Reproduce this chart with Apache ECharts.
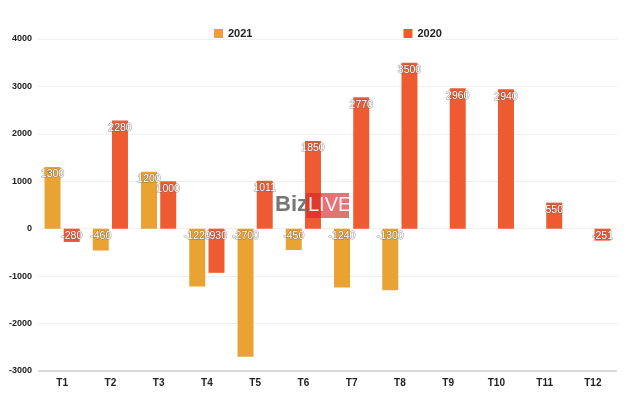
<!DOCTYPE html>
<html><head><meta charset="utf-8">
<script src="https://cdn.jsdelivr.net/npm/echarts@6/dist/echarts.min.js"></script>
<style>html,body{margin:0;padding:0;background:#fff}#c{width:630px;height:401px}</style>
</head><body><div id="c"></div>
<script>
const categories = ['T1','T2','T3','T4','T5','T6','T7','T8','T9','T10','T11','T12'];
const values2021 = [1300, -460, 1200, -1220, -2700, -450, -1240, -1300, null, null, null, null];
const values2020 = [-280, 2280, 1000, -930, 1011, 1850, 2770, 3500, 2960, 2940, 550, -251];
const yTicks = { min: -3000, max: 4000, interval: 1000 };

const chart = echarts.init(document.getElementById('c'));
const lbl = {
  show: true, position: 'insideTop', distance: 2,
  color: '#fff', fontSize: 10.5, fontFamily: 'Arial, Liberation Sans',
  textBorderColor: 'rgba(90,90,90,0.6)', textBorderWidth: 1
};
chart.setOption({
  animation: false,
  grid: { left: 38, right: 13, top: 39, bottom: 30 },
  legend: {
    left: 209, top: 23, itemWidth: 9, itemHeight: 9, itemGap: 151,
    icon: 'rect',
    textStyle: { fontSize: 11, fontWeight: 'bold', color: '#222', fontFamily: 'Arial, Liberation Sans' },
    data: ['2021', '2020']
  },
  xAxis: {
    type: 'category', data: categories,
    axisLine: { show: false }, axisTick: { show: false },
    axisLabel: { fontSize: 10, fontWeight: 'bold', color: '#222', margin: 7, fontFamily: 'Arial, Liberation Sans' }
  },
  yAxis: {
    type: 'value', min: yTicks.min, max: yTicks.max, interval: yTicks.interval,
    axisLine: { show: false }, axisTick: { show: false },
    axisLabel: { fontSize: 9, fontWeight: 'bold', color: '#222', margin: 6, fontFamily: 'Arial, Liberation Sans',
      formatter: v => String(v) },
    splitLine: { lineStyle: { color: '#f0f0f0' } }
  },
  graphic: [
    { type: 'line', z: 100, shape: { x1: 38, y1: 371, x2: 617, y2: 371 }, style: { stroke: '#d0d0d0', lineWidth: 1.5 } },
    { type: 'text', z: 100, left: 275, top: 194, style: { text: 'Biz', fill: '#777', font: 'bold 22px Arial, Liberation Sans' } },
    { type: 'rect', z: 100, shape: { x: 306, y: 193, width: 43, height: 25 }, style: { fill: 'rgba(215,40,45,0.65)' } },
    { type: 'text', z: 101, left: 308, top: 195, style: { text: 'LIVE', fill: '#ffffff', opacity: 0.9, font: '20px Arial, Liberation Sans' } }
  ],
  series: [
    { name: '2021', type: 'bar', data: values2021, barWidth: 16, barGap: '20%',
      itemStyle: { color: '#E8A332' }, label: lbl },
    { name: '2020', type: 'bar', data: values2020, barWidth: 16,
      itemStyle: { color: '#EE5B33' }, label: lbl }
  ]
});
</script></body></html>
